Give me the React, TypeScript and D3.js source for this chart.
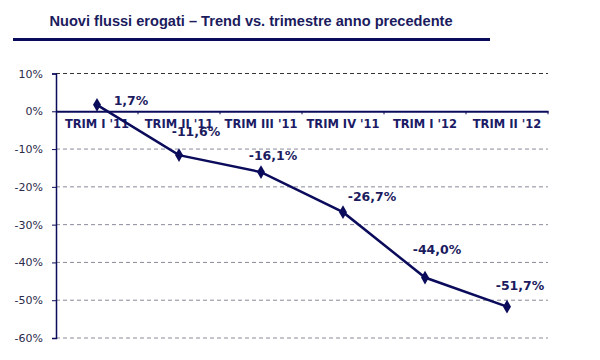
import React, { useEffect, useRef } from 'react';
import * as d3 from 'd3';

const categories = ["TRIM I '11", "TRIM II '11", "TRIM III '11", "TRIM IV '11", "TRIM I '12", "TRIM II '12"];
const values = [1.7, -11.6, -16.1, -26.7, -44.0, -51.7];
const valueLabels = ["1,7%", "-11,6%", "-16,1%", "-26,7%", "-44,0%", "-51,7%"];
const yTicks = [10, 0, -10, -20, -30, -40, -50, -60];

// label placement relative to each point (layout only)
const labelOffsets = [[34, 0], [17, -19], [12, -12], [29, -11], [12, -24], [13, -17]];

const navy = '#0b0b5c';
const wide = 'DejaVu Sans, Verdana, sans-serif';

export default function App() {
  const ref = useRef<SVGSVGElement>(null);

  useEffect(() => {
    const svg = d3.select(ref.current);
    svg.selectAll('*').remove();

    const left = 56, right = 548, top = 73.5, bottom = 338;

    svg.append('text')
      .attr('x', 251).attr('y', 26)
      .attr('text-anchor', 'middle')
      .style('font-family', 'Liberation Sans, Arial, sans-serif')
      .style('font-size', '14.6px').style('font-weight', 'bold')
      .attr('fill', '#1b1b5e')
      .text('Nuovi flussi erogati – Trend vs. trimestre anno precedente');

    svg.append('rect')
      .attr('x', 13).attr('y', 38).attr('width', 477).attr('height', 3)
      .attr('fill', navy);

    const x = d3.scaleBand().domain(categories).range([left, right]);
    const y = d3.scaleLinear().domain([-60, 10]).range([bottom, top]);

    const g = svg.append('g');

    // gridlines
    g.selectAll('.grid')
      .data(yTicks.filter(d => d !== 0))
      .enter().append('line')
      .attr('x1', left).attr('x2', right)
      .attr('y1', d => y(d)).attr('y2', d => y(d))
      .attr('stroke', d => d === 10 ? '#333' : '#8a8a9a')
      .attr('stroke-width', 1)
      .attr('stroke-dasharray', '4,3');

    // y axis
    const yAxis = g.append('g')
      .attr('transform', `translate(${left},0)`)
      .call(d3.axisLeft(y).tickValues(yTicks).tickSize(4).tickFormat(d => `${d}%`));
    yAxis.select('.domain').attr('stroke', navy).attr('stroke-width', 1.5);
    yAxis.selectAll('.tick line').attr('stroke', navy);
    yAxis.selectAll('.tick text')
      .attr('x', -13)
      .style('font-family', wide)
      .style('font-size', '11px')
      .attr('fill', '#2a2a4a');

    // zero axis
    const xAxis = g.append('g')
      .attr('transform', `translate(0,${y(0)})`)
      .call(d3.axisBottom(x).tickSize(0).tickPadding(9));
    xAxis.select('.domain').attr('stroke', navy).attr('stroke-width', 2);
    xAxis.selectAll('.tick text')
      .style('font-family', wide)
      .style('font-size', '11.5px').style('font-weight', 'bold')
      .attr('fill', '#1b1b66');
    g.selectAll('.xtick')
      .data(categories.slice(1).concat(['end']))
      .enter().append('line')
      .attr('x1', (d, i) => left + x.bandwidth() * (i + 1))
      .attr('x2', (d, i) => left + x.bandwidth() * (i + 1))
      .attr('y1', y(0)).attr('y2', y(0) + 3)
      .attr('stroke', navy);

    const cx = (i: number) => (x(categories[i]) as number) + x.bandwidth() / 2;

    const line = d3.line<number>()
      .x((d, i) => cx(i))
      .y(d => y(d));

    g.append('path')
      .datum(values)
      .attr('d', line)
      .attr('fill', 'none')
      .attr('stroke', navy)
      .attr('stroke-width', 2.5);

    g.selectAll('.pt')
      .data(values)
      .enter().append('path')
      .attr('d', d3.symbol().type(d3.symbolDiamond).size(55))
      .attr('transform', (d, i) => `translate(${cx(i)},${y(d)})`)
      .attr('fill', navy);

    g.selectAll('.lbl')
      .data(values)
      .enter().append('text')
      .attr('x', (d, i) => cx(i) + labelOffsets[i][0])
      .attr('y', (d, i) => y(d) + labelOffsets[i][1])
      .attr('text-anchor', 'middle')
      .style('font-family', wide)
      .style('font-size', '12.5px').style('font-weight', 'bold')
      .attr('fill', '#1b1b5e')
      .text((d, i) => valueLabels[i]);
  }, []);

  return (
    <svg ref={ref} width={600} height={360}
      style={{ position: 'absolute', left: 0, top: 0, background: '#fff' }} />
  );
}
